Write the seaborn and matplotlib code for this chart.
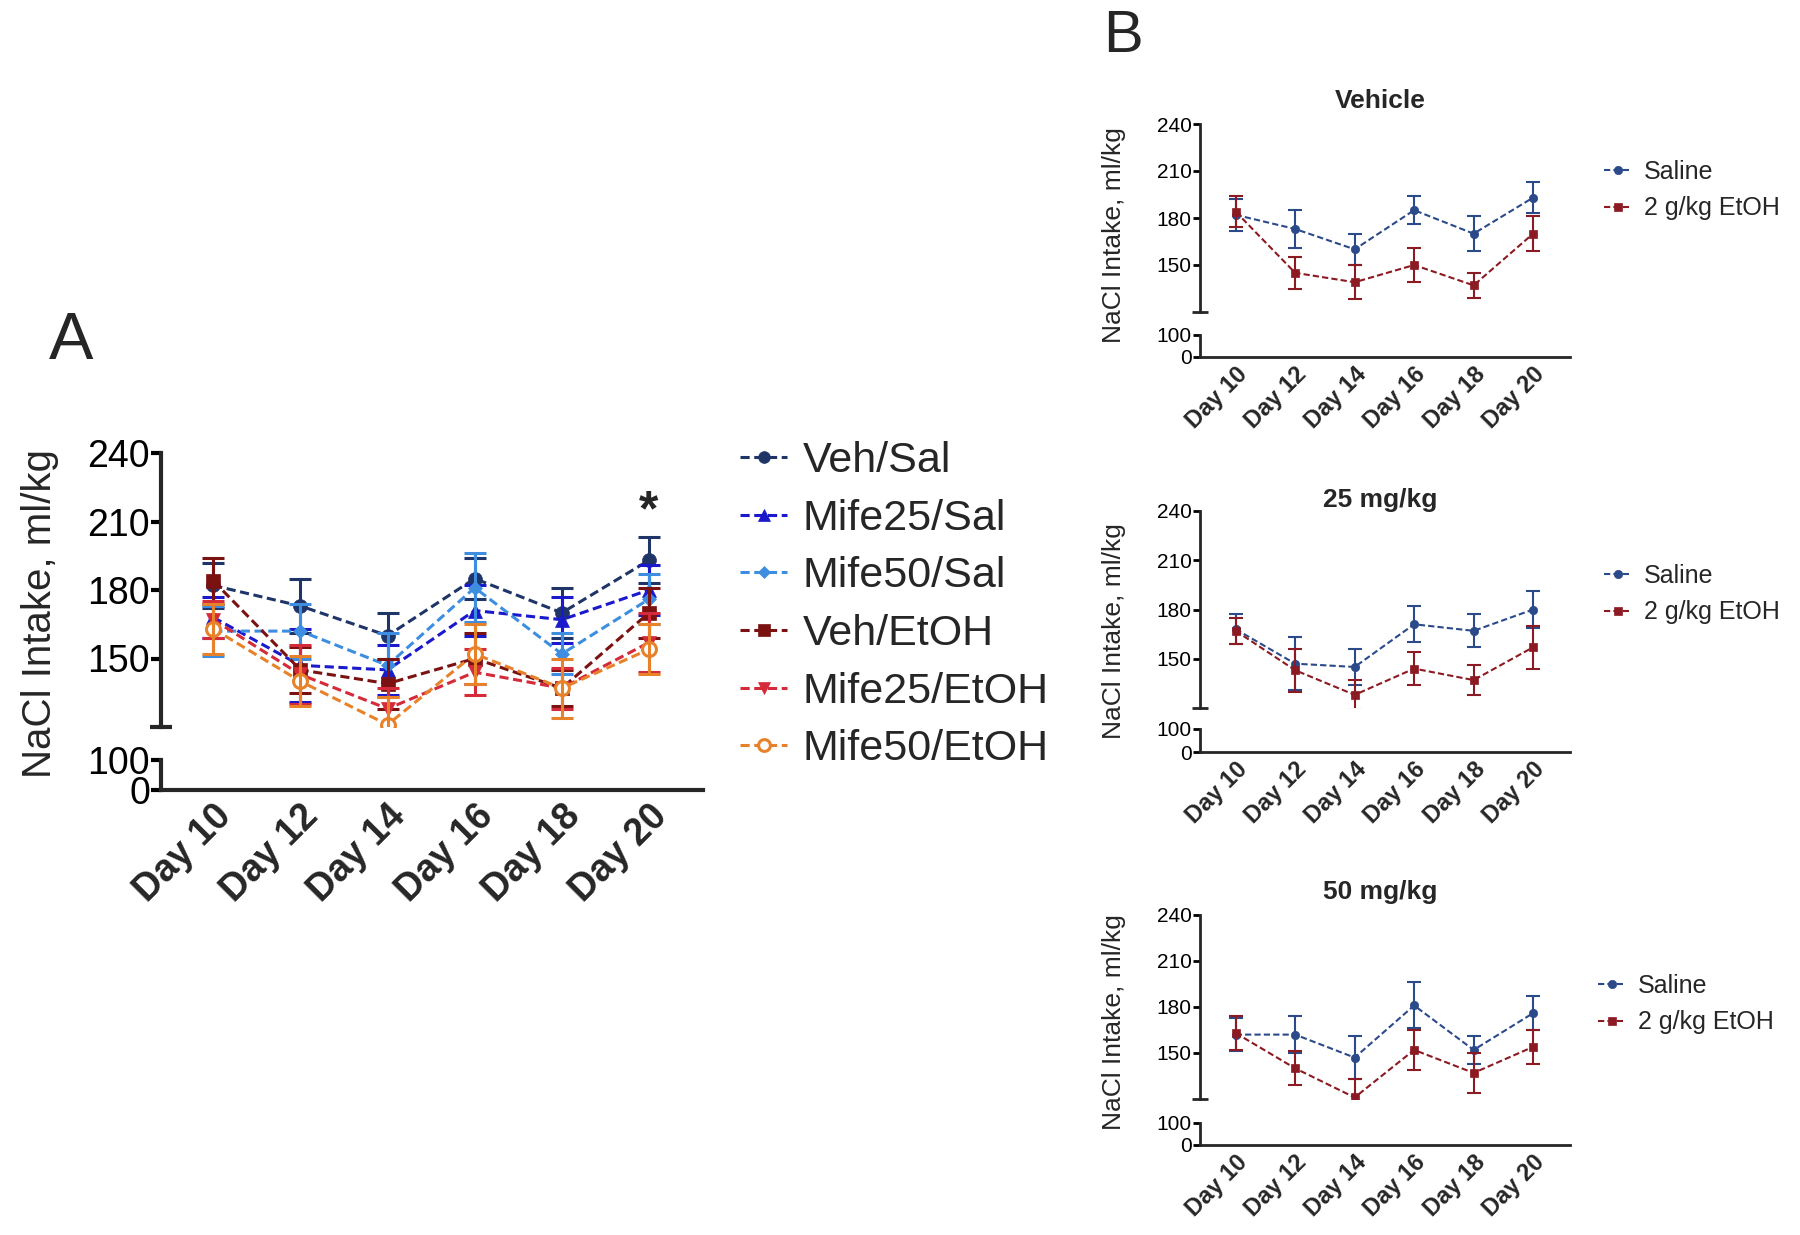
import numpy as np
import pandas as pd
import matplotlib
matplotlib.use("Agg")
import matplotlib.pyplot as plt
import seaborn as sns
from matplotlib.ticker import FixedLocator

# Data (mean +/- SEM)

days = ["Day 10", "Day 12", "Day 14", "Day 16", "Day 18", "Day 20"]

veh_sal = [182, 173, 160, 185, 170, 193]
veh_sal_err = [10, 12, 10, 9, 11, 10]

mife25_sal = [168, 147, 145, 171, 167, 180]
mife25_sal_err = [9, 16, 11, 11, 10, 11]

mife50_sal = [162, 162, 147, 181, 152, 176]
mife50_sal_err = [11, 12, 14, 15, 9, 11]

veh_etoh = [184, 145, 139, 150, 137, 170]
veh_etoh_err = [10, 10, 11, 11, 8, 11]

mife25_etoh = [167, 143, 128, 144, 137, 157]
mife25_etoh_err = [8, 13, 9, 10, 9, 13]

mife50_etoh = [163, 140, 121, 152, 137, 154]
mife50_etoh_err = [11, 11, 12, 13, 13, 11]

group_names = ["Veh/Sal", "Mife25/Sal", "Mife50/Sal",
               "Veh/EtOH", "Mife25/EtOH", "Mife50/EtOH"]
group_colors = ["#1f3568", "#1a1acc", "#3d8ee0",
                "#7a1212", "#d42a3a", "#e8822a"]
group_markers = ["o", "^", "D", "s", "v", "o"]
group_msizes = [10, 10, 7, 10, 10, 10]

panel_b_titles = ["Vehicle", "25 mg/kg", "50 mg/kg"]
saline_sets = [(veh_sal, veh_sal_err), (mife25_sal, mife25_sal_err), (mife50_sal, mife50_sal_err)]
etoh_sets = [(veh_etoh, veh_etoh_err), (mife25_etoh, mife25_etoh_err), (mife50_etoh, mife50_etoh_err)]
b_labels = ["Saline", "2 g/kg EtOH"]
b_colors = ["#2b4a8a", "#8b1a22"]
b_markers = ["o", "s"]

sns.set_theme(style="ticks")
plt.rcParams["font.family"] = ["Liberation Sans", "DejaVu Sans"]

W, H = 1800, 1235
fig = plt.figure(figsize=(18, 12.35), dpi=100)
x = np.arange(len(days))


def fy(px):
    return 1 - px / H


def broken_axes(left_px, right_px, top_px, brk_px, low_top_px, zero_px,
                spine_lw, ytick_fs, xtick_fs, tick_len):
    left = left_px / W
    width = (right_px - left_px) / W
    ax = fig.add_axes([left, fy(brk_px), width, (brk_px - top_px) / H])
    axl = fig.add_axes([left, fy(zero_px), width, (zero_px - low_top_px) / H])

    for a in (ax, axl):
        a.patch.set_alpha(0)
        a.spines[["top", "right"]].set_visible(False)
        a.spines["left"].set_linewidth(spine_lw)
        a.spines["bottom"].set_linewidth(spine_lw)
        a.tick_params(axis="y", which="major", direction="out", length=tick_len,
                      width=spine_lw, labelsize=ytick_fs, pad=1, colors="black")
        a.tick_params(axis="y", which="minor", direction="inout", length=2.2 * tick_len,
                      width=spine_lw)
        a.set_xlim(-0.6, 5.62)
        a.grid(False)

    ax.spines["bottom"].set_visible(False)
    ax.set_ylim(120, 240)
    ax.set_yticks([150, 180, 210, 240])
    ax.yaxis.set_minor_locator(FixedLocator([120]))
    ax.set_xticks([])

    axl.set_ylim(0, 100)
    axl.set_yticks([0, 100])
    axl.yaxis.set_minor_locator(FixedLocator([100]))
    axl.set_xticks(x)
    axl.set_xticklabels(days, rotation=45, ha="right", va="top",
                        rotation_mode="anchor", fontweight="bold", fontsize=xtick_fs)
    axl.tick_params(axis="x", length=0, pad=tick_len * 0.8)

    for a in (ax, axl):
        for lbl in a.get_yticklabels():
            lbl.set_fontfamily(["Liberation Sans Narrow", "Liberation Sans", "DejaVu Sans"])
    return ax, axl


def draw_series(ax, vals, errs, color, marker, label, ms, lw, cap, filled=True):
    sns.lineplot(x=x, y=vals, ax=ax, color=color, marker=marker, markersize=ms,
                 linewidth=lw, linestyle=(0, (3, 1.5)), label=label,
                 mec=color, mfc=color if filled else "white",
                 mew=lw if not filled else 0.5, errorbar=None)
    ax.errorbar(x, vals, yerr=errs, fmt="none", ecolor=color, elinewidth=lw,
                capsize=cap, capthick=lw)


# Panel A

axA, axA_low = broken_axes(161, 703, 453, 727, 760, 790,
                           spine_lw=3.0, ytick_fs=27, xtick_fs=27, tick_len=7)

series_a = [
    (veh_sal, veh_sal_err), (mife25_sal, mife25_sal_err), (mife50_sal, mife50_sal_err),
    (veh_etoh, veh_etoh_err), (mife25_etoh, mife25_etoh_err), (mife50_etoh, mife50_etoh_err),
]
for (vals, errs), name, col, mk, ms in zip(series_a, group_names, group_colors,
                                           group_markers, group_msizes):
    draw_series(axA, vals, errs, col, mk, name, ms=ms, lw=2.2, cap=8,
                filled=(name != "Mife50/EtOH"))

handles, labels = axA.get_legend_handles_labels()
axA.get_legend().remove()
fig.legend(handles, labels, loc="upper left", bbox_to_anchor=(740 / W, fy(441)),
           frameon=False, fontsize=31, handlelength=1.1, handletextpad=0.35,
           labelspacing=0.41, borderpad=0, borderaxespad=0, markerscale=0.85)

axA.text(5, 214, "*", ha="center", va="center", fontsize=36, fontweight="bold")

fig.text(40 / W, fy(614), "NaCl Intake, ml/kg", rotation=90, ha="center",
         va="center", fontsize=29)
fig.text(71 / W, fy(342), "A", ha="center", va="center", fontsize=48)

# Panel B

b_layout = [
    # top, break, low top, zero, title y, ylabel y, legend top
    (124, 312, 335, 357, 101, 235, 160),
    (511, 708, 729, 752, 500, 631, 564),
    (915, 1099, 1123, 1145, 892, 1022, 974),
]
b_legend_x = [1604, 1604, 1598]

for i, title in enumerate(panel_b_titles):
    top, brk, lowt, zero, ty, ly, lgy = b_layout[i]
    ax, axl = broken_axes(1200, 1570, top, brk, lowt, zero,
                          spine_lw=2.0, ytick_fs=15, xtick_fs=17, tick_len=5)
    sets = [saline_sets[i], etoh_sets[i]]
    for (vals, errs), lab, col, mk in zip(sets, b_labels, b_colors, b_markers):
        draw_series(ax, vals, errs, col, mk, lab, ms=6, lw=1.5, cap=5)
    h, l = ax.get_legend_handles_labels()
    ax.get_legend().remove()
    fig.legend(h, l, loc="upper left", bbox_to_anchor=(b_legend_x[i] / W, fy(lgy)),
               frameon=False, fontsize=18, handlelength=1.1, handletextpad=0.5,
               labelspacing=0.5, borderpad=0, borderaxespad=0)
    fig.text(1380 / W, fy(ty), title, ha="center", va="center",
             fontsize=19, fontweight="bold")
    fig.text(1114 / W, fy(ly), "NaCl Intake, ml/kg", rotation=90, ha="center",
             va="center", fontsize=19)

fig.text(1123 / W, fy(36), "B", ha="center", va="center", fontsize=43)

fig.savefig("out.png", dpi=100)
